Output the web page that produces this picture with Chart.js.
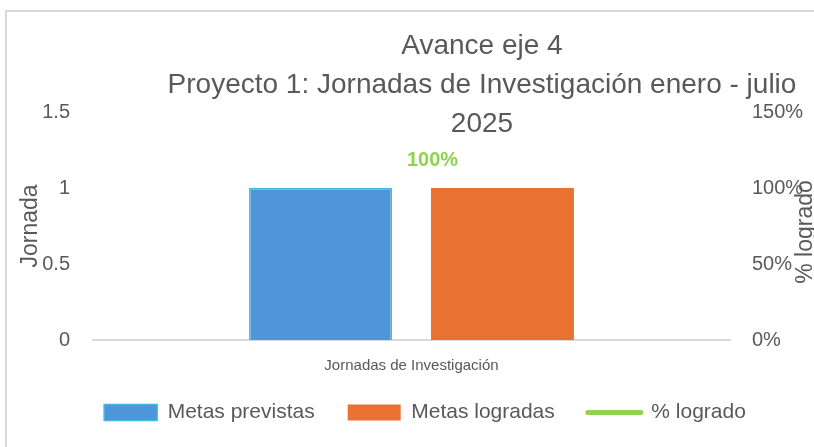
<!DOCTYPE html>
<html lang="es">

<head>
    <meta charset="UTF-8" />
    <title>Avance eje 4</title>
    <script src="https://cdn.jsdelivr.net/npm/chart.js"></script>
    <style>
        html, body { margin: 0; padding: 0; background: #fff; overflow: hidden; }
        #frame { position: absolute; left: 5px; top: 10px; width: 900px; height: 500px; border: 2px solid #d9d9d9; }
        #wrap { position: absolute; left: 0; top: 0; width: 814px; height: 447px; }
    </style>
</head>

<body>
    <div id="frame"></div>
    <div id="wrap"><canvas id="chart"></canvas></div>
    <script>
        // datos
        var categorias = ["Jornadas de Investigación"];
        var metasPrevistas = [1];
        var metasLogradas = [1];
        var porcentajeLogrado = [1.0];
        var ticksJornada = [0, 0.5, 1, 1.5];
        var etiquetasJornada = ["0", "0.5", "1", "1.5"];
        var etiquetasPorcentaje = ["0%", "50%", "100%", "150%"];
        var tituloLineas = ["Avance eje 4", "Proyecto 1: Jornadas de Investigación enero - julio", "2025"];

        var gris = "#595959";
        var sans = "'Liberation Sans', Arial, sans-serif";

        // titulo y rotulos que Excel pinta encima del area
        var overlay = {
            id: "overlay",
            afterDraw: function (chart) {
                var ctx = chart.ctx;
                ctx.save();
                ctx.fillStyle = gris;
                ctx.textAlign = "center";
                ctx.textBaseline = "middle";
                ctx.font = "28px " + sans;
                var ys = [46, 85, 124];
                tituloLineas.forEach(function (t, i) {
                    ctx.fillText(t, 482, ys[i]);
                });

                ctx.font = "23px " + sans;
                ctx.save();
                ctx.translate(31, 226);
                ctx.rotate(-Math.PI / 2);
                ctx.fillText("Jornada", 0, 0);
                ctx.restore();
                ctx.save();
                ctx.translate(806, 232);
                ctx.rotate(-Math.PI / 2);
                ctx.fillText("% logrado", 0, 0);
                ctx.restore();

                // etiqueta del % logrado
                var pt = chart.getDatasetMeta(2).data[0];
                ctx.fillStyle = "#8ED24F";
                ctx.font = "bold 20px " + sans;
                ctx.fillText(Math.round(porcentajeLogrado[0] * 100) + "%", pt.x + 21, pt.y - 28);
                ctx.restore();
            }
        };

        var ctx = document.getElementById("chart").getContext("2d");
        var myChart = new Chart(ctx, {
            type: "bar",
            data: {
                labels: categorias,
                datasets: [
                    {
                        label: "Metas previstas",
                        data: metasPrevistas,
                        backgroundColor: "#4E95D9",
                        borderColor: "#45B5EA",
                        borderWidth: 1.5,
                        yAxisID: "y",
                        order: 2,
                    },
                    {
                        label: "Metas logradas",
                        data: metasLogradas,
                        backgroundColor: "#E97132",
                        borderWidth: 0,
                        yAxisID: "y",
                        order: 2,
                    },
                    {
                        type: "line",
                        label: "% logrado",
                        data: porcentajeLogrado,
                        borderColor: "#8ED24F",
                        backgroundColor: "#8ED24F",
                        borderWidth: 4,
                        pointRadius: 0,
                        yAxisID: "y1",
                        order: 1,
                    },
                ],
            },
            options: {
                responsive: true,
                maintainAspectRatio: false,
                animation: false,
                categoryPercentage: 0.571,
                barPercentage: 0.786,
                layout: { padding: { top: 112, bottom: 14, left: 36, right: 0 } },
                plugins: {
                    title: { display: false },
                    tooltip: { enabled: false },
                    legend: {
                        position: "bottom",
                        labels: {
                            usePointStyle: true,
                            pointStyleWidth: 53,
                            boxHeight: 16,
                            padding: 33,
                            color: gris,
                            font: { family: sans, size: 21 },
                            generateLabels: function (chart) {
                                var ds = chart.data.datasets;
                                return [
                                    { text: ds[0].label, fillStyle: ds[0].backgroundColor, strokeStyle: ds[0].borderColor, lineWidth: 1.5, pointStyle: "rect", datasetIndex: 0, fontColor: gris },
                                    { text: ds[1].label, fillStyle: ds[1].backgroundColor, strokeStyle: ds[1].backgroundColor, lineWidth: 0, pointStyle: "rect", datasetIndex: 1, fontColor: gris },
                                    { text: ds[2].label, fillStyle: ds[2].borderColor, strokeStyle: ds[2].borderColor, lineWidth: 5, lineCap: "round", pointStyle: "line", datasetIndex: 2, fontColor: gris },
                                ];
                            },
                        },
                    },
                },
                scales: {
                    x: {
                        grid: { display: false, drawTicks: false },
                        border: { display: true, color: "#d9d9d9", width: 2 },
                        ticks: { color: gris, padding: 17, font: { family: sans, size: 15 } },
                        afterFit: function (s) {
                            s.height = 29;
                            // sin recorte de la etiqueta al alto reducido
                            s._computeLabelArea = function () {};
                        },
                    },
                    y: {
                        position: "left",
                        min: 0,
                        max: 1.5,
                        grid: { display: false, drawTicks: false },
                        border: { display: false },
                        afterBuildTicks: function (s) { s.ticks = ticksJornada.map(function (v) { return { value: v }; }); },
                        ticks: {
                            color: gris,
                            padding: 23,
                            font: { family: sans, size: 20 },
                            callback: function (v, i) { return etiquetasJornada[i]; },
                        },
                        afterFit: function (s) { s.width = 57; },
                    },
                    y1: {
                        position: "right",
                        min: 0,
                        max: 1.5,
                        grid: { display: false, drawTicks: false },
                        border: { display: false },
                        afterBuildTicks: function (s) { s.ticks = ticksJornada.map(function (v) { return { value: v }; }); },
                        ticks: {
                            color: gris,
                            padding: 22,
                            font: { family: sans, size: 20 },
                            callback: function (v, i) { return etiquetasPorcentaje[i]; },
                        },
                        afterFit: function (s) { s.width = 84; },
                    },
                },
            },
            plugins: [overlay],
        });
    </script>
</body>

</html>
